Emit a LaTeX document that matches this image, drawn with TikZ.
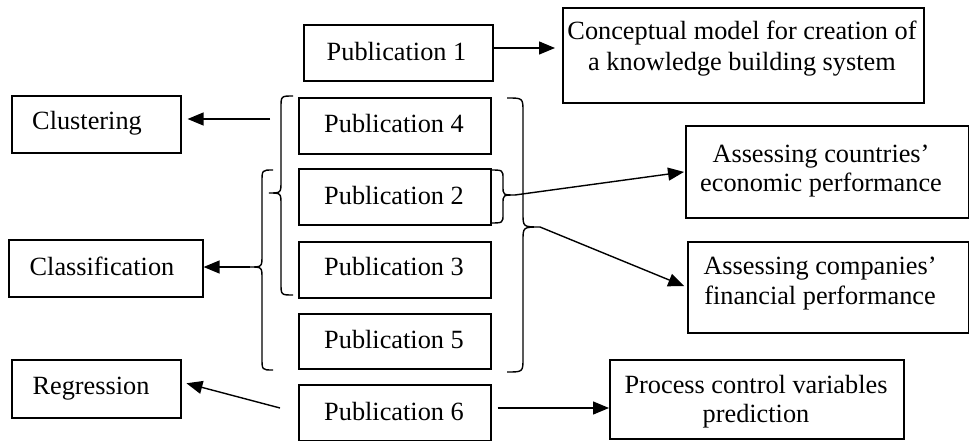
\documentclass[tikz,border=0pt]{standalone}
\usepackage{fontspec}
\setmainfont{Liberation Serif}
\usetikzlibrary{arrows.meta}
\begin{document}
\begin{tikzpicture}[x=1pt,y=-1pt,
  box/.style={draw, line width=1.6pt, anchor=north west, inner sep=0pt},
  lbl/.style={anchor=base, inner sep=0pt, font=\fontsize{26.3}{30}\selectfont},
  two/.style={anchor=base, inner sep=0pt, align=center, font=\fontsize{26.3}{#1}\selectfont},
  conn/.style={line width=1.4pt, -{Triangle[length=16pt,width=13pt]}},
  curly/.style={line width=1.4pt},
]
\useasboundingbox (0,0) rectangle (969,441);

% publication boxes
\node[box, minimum width=189pt, minimum height=56pt] (pub1) at (303,24) {};
\node[box, minimum width=192pt, minimum height=56pt] (pub4) at (298,97) {};
\node[box, minimum width=192pt, minimum height=56pt] (pub2) at (298,168) {};
\node[box, minimum width=192pt, minimum height=56pt] (pub3) at (298,241) {};
\node[box, minimum width=192pt, minimum height=55pt] (pub5) at (298,313) {};
\node[box, minimum width=192pt, minimum height=56pt] (pub6) at (298,384) {};
\node[lbl] (tpub1) at (396.5,61) {Publication 1};
\node[lbl] (tpub4) at (394,133) {Publication 4};
\node[lbl] (tpub2) at (394,204) {Publication 2};
\node[lbl] (tpub3) at (394,275) {Publication 3};
\node[lbl] (tpub5) at (394,348) {Publication 5};
\node[lbl] (tpub6) at (394,420) {Publication 6};

% method boxes
\node[box, minimum width=169pt, minimum height=57pt] (clus) at (11,95) {};
\node[box, minimum width=194pt, minimum height=57pt] (class) at (8,239) {};
\node[box, minimum width=169pt, minimum height=58pt] (regr) at (11,359) {};
\node[lbl] (tclus) at (87,130) {Clustering};
\node[lbl] (tclass) at (102,275) {Classification};
\node[lbl] (tregr) at (91,394) {Regression};

% application boxes (the base anchor of a two-line text is its last line)
\node[box, minimum width=361pt, minimum height=95pt] (concept) at (562,7) {};
\node[box, minimum width=283pt, minimum height=92pt] (countries) at (685,125) {};
\node[box, minimum width=281pt, minimum height=91pt] (companies) at (687,241) {};
\node[box, minimum width=294pt, minimum height=79pt] (process) at (609,359) {};
\node[two=31] (tconcept) at (742,71) {Conceptual model for creation of\\a knowledge building system};
\node[two=29] (tcountries) at (821,191) {Assessing countries’\\economic performance};
\node[two=30] (tcompanies) at (820,304) {Assessing companies’\\financial performance};
\node[two=29] (tprocess) at (756,422) {Process control variables\\prediction};

% braces grouping the publications
\draw[curly] (293,96) .. controls (281,96) .. (281,108) -- (281,181)
  .. controls (281,193) .. (269,193) .. controls (281,193) .. (281,205)
  -- (281,283) .. controls (281,295) .. (293,295);
\draw[curly] (273,170) .. controls (262,170) .. (262,182) -- (262,255)
  .. controls (262,267) .. (250,267) .. controls (262,267) .. (262,279)
  -- (262,358) .. controls (262,370) .. (273,370);
\draw[curly] (490,170) .. controls (503,170) .. (503,179) -- (503,186)
  .. controls (503,195) .. (515,195) .. controls (503,195) .. (503,204)
  -- (503,214) .. controls (503,223) .. (490,223);
\draw[curly] (507,98) .. controls (523,98) .. (523,112) -- (523,213)
  .. controls (523,227) .. (540,227) .. controls (523,227) .. (523,241)
  -- (523,358) .. controls (523,372) .. (507,372);

\coordinate (clusFrom) at (270,119);
\coordinate (classTip) at (250,267);
\coordinate (pub2Tip) at (515,195);
\coordinate (bigTip) at (540,227);
\coordinate (regrFrom) at (280,408);

% connectors
\draw[conn, shorten >=7pt] (pub1.east |- 0,48) -- (concept.west |- 0,48);
\draw[conn, shorten >=6pt] (clusFrom) -- (clus.east |- clusFrom);
\draw[conn] (classTip) -- (class.east |- classTip);
\draw[conn, shorten >=5pt] (regrFrom) -- (regr.east |- 0,382);
\draw[conn, shorten >=1pt] (pub2Tip) -- (countries.west);
\draw[conn, shorten >=3pt] (bigTip) -- (companies.west);
\draw[conn, shorten <=6pt] (pub6.east |- 0,408) -- (process.west |- 0,408);
\end{tikzpicture}
\end{document}
